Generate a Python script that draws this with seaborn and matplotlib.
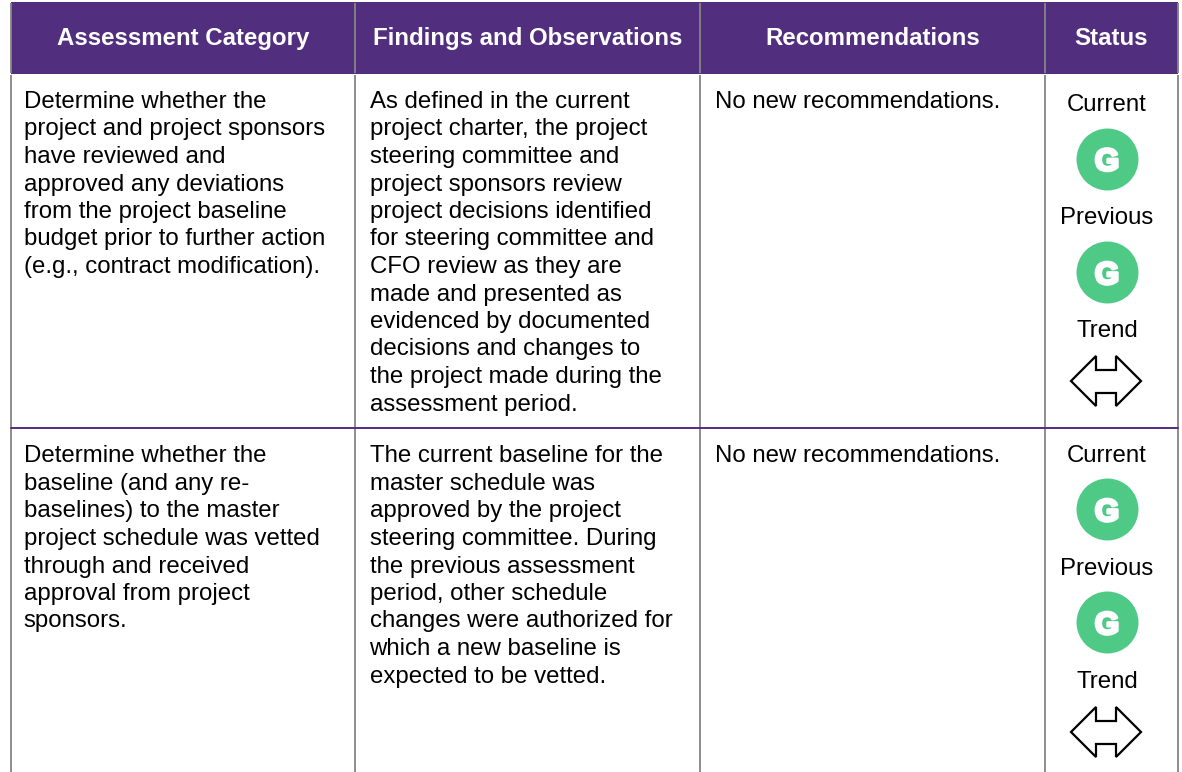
import matplotlib
matplotlib.use("Agg")
import matplotlib.pyplot as plt
import matplotlib.patheffects as pe
import pandas as pd
import seaborn as sns
from matplotlib.patches import Polygon, Rectangle

headers = ["Assessment Category", "Findings and Observations", "Recommendations", "Status"]

category_lines = [
    ["Determine whether the", "project and project sponsors", "have reviewed and",
     "approved any deviations", "from the project baseline", "budget prior to further action",
     "(e.g., contract modification)."],
    ["Determine whether the", "baseline (and any re-", "baselines) to the master",
     "project schedule was vetted", "through and received", "approval from project",
     "sponsors."],
]
finding_lines = [
    ["As defined in the current", "project charter, the project", "steering committee and",
     "project sponsors review", "project decisions identified", "for steering committee and",
     "CFO review as they are", "made and presented as", "evidenced by documented",
     "decisions and changes to", "the project made during the", "assessment period."],
    ["The current baseline for the", "master schedule was", "approved by the project",
     "steering committee. During", "the previous assessment", "period, other schedule",
     "changes were authorized for", "which a new baseline is", "expected to be vetted."],
]
recommendations = ["No new recommendations.", "No new recommendations."]
status_labels = ["Current", "Previous", "Trend"]
current_status = ["G", "G"]
previous_status = ["G", "G"]

PURPLE = "#522E7E"
GREEN = "#4FC986"
GRAY = "#858585"
col_edges = [11, 355, 700, 1045, 1178]
row_baselines = [108, 462.5]   # baseline of first text line in each row
divider_y = 428
line_h = 27.5
font = ["Liberation Sans", "Arial", "DejaVu Sans"]
body_size = 17.25

sns.set_theme(style="white")
plt.rcParams["font.family"] = font

fig = plt.figure(figsize=(11.82, 7.72), dpi=100)
ax = fig.add_axes([0, 0, 1, 1])
ax.set_xlim(0, 1182)
ax.set_ylim(772, 0)
ax.axis("off")

# header band
ax.add_patch(Rectangle((col_edges[0], 2), col_edges[-1] - col_edges[0], 72, color=PURPLE, lw=0, zorder=1))
centers = [(a + b) / 2 for a, b in zip(col_edges[:-1], col_edges[1:])]
for cx, head in zip(centers, headers):
    ax.text(cx, 45, head, color="white", fontsize=body_size, fontweight="bold", ha="center", va="baseline", zorder=3)

# grid lines, broken at the bottom of the header
for x in col_edges:
    ax.plot([x, x], [3, 72.5], color=GRAY, lw=1.3, zorder=2, solid_capstyle="butt")
    ax.plot([x, x], [74.5, 772], color=GRAY, lw=1.3, zorder=2, solid_capstyle="butt")
ax.plot([col_edges[0], col_edges[-1]], [divider_y, divider_y], color=PURPLE, lw=1.4, zorder=3)

# body text
for r, first in enumerate(row_baselines):
    for col, lines in zip([23.5, 369.5], [category_lines[r], finding_lines[r]]):
        for i, line in enumerate(lines):
            ax.text(col, first + i * line_h, line, color="black", fontsize=body_size, ha="left", va="baseline")
    ax.text(715, first, recommendations[r], color="black", fontsize=body_size, ha="left", va="baseline")

    # status column
    base = 111 + 351 * r
    for i, label in enumerate(status_labels):
        ax.text(1107, base + i * 113, label, color="black", fontsize=body_size, ha="center", va="baseline")

# status circles
dots = pd.DataFrame({
    "x": [1106.5] * 4,
    "y": [158.5, 272, 509, 622],
    "status": current_status[:1] + previous_status[:1] + current_status[1:] + previous_status[1:],
})
sns.scatterplot(data=dots, x="x", y="y", s=1990, color=GREEN, linewidth=0, legend=False, ax=ax, zorder=3)
for _, d in dots.iterrows():
    ax.text(d["x"] + 0.5, d["y"] + 12, d["status"], color="white", fontsize=22.5, fontweight="bold",
            ha="center", va="baseline", zorder=4,
            path_effects=[pe.withStroke(linewidth=2.2, foreground="white")])

# trend arrows (double headed outline)
for cy in [381, 732]:
    cx = 1106
    pts = [(cx - 35, cy), (cx - 10, cy - 25), (cx - 10, cy - 11), (cx + 10, cy - 11), (cx + 10, cy - 25),
           (cx + 35, cy), (cx + 10, cy + 25), (cx + 10, cy + 12), (cx - 10, cy + 12), (cx - 10, cy + 25)]
    ax.add_patch(Polygon(pts, closed=True, fill=False, edgecolor="black", lw=1.6, zorder=3))

ax.set_xlabel("")
ax.set_ylabel("")
fig.savefig("out.png", dpi=100, facecolor="white")
